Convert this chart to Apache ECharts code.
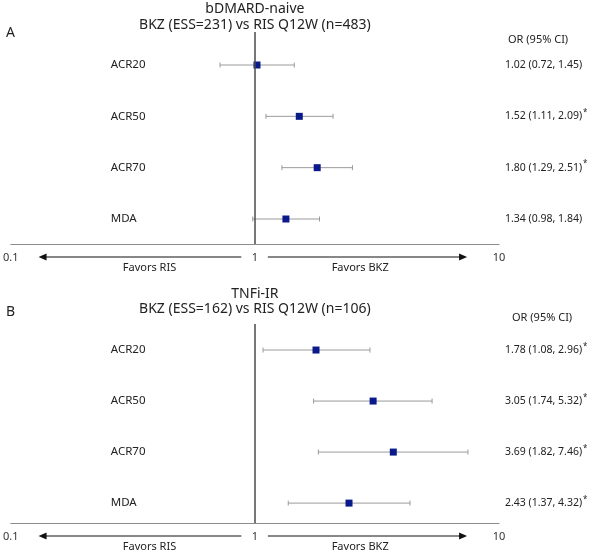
<!DOCTYPE html>
<html>
<head>
<meta charset="utf-8">
<script src="https://cdn.jsdelivr.net/npm/echarts@6/dist/echarts.min.js"></script>
<style>
html,body{margin:0;padding:0;background:#fff;}
#chart{width:597px;height:558px;}
</style>
</head>
<body>
<div id="chart"></div>
<script>
// ---- data ----
const categories = ['ACR20', 'ACR50', 'ACR70', 'MDA'];
const xTicks = [0.1, 1, 10];

const panelATitle = 'bDMARD-naive';
const panelASub = 'BKZ (ESS=231) vs RIS Q12W (n=483)';
const orA = [1.02, 1.52, 1.80, 1.34];
const loA = [0.72, 1.11, 1.29, 0.98];
const hiA = [1.45, 2.09, 2.51, 1.84];
const sigA = [false, true, true, false];

const panelBTitle = 'TNFi-IR';
const panelBSub = 'BKZ (ESS=162) vs RIS Q12W (n=106)';
const orB = [1.78, 3.05, 3.69, 2.43];
const loB = [1.08, 1.74, 1.82, 1.37];
const hiB = [2.96, 5.32, 7.46, 4.32];
const sigB = [true, true, true, true];

const FONT = '"Noto Sans", "Open Sans", sans-serif';
const MARK = '#0a1a8a';
const BAR = '#9a9a9a';

function fmt(v){ return v.toFixed(2); }
function orText(o, l, h, s){
  return '{v|' + fmt(o) + ' (' + fmt(l) + ', ' + fmt(h) + ')}' + (s ? '{s|*}' : '');
}

const chart = echarts.init(document.getElementById('chart'), null, {renderer:'canvas'});

function xAxisDef(gi){
  return {
    type:'log', logBase:10, min:0.1, max:10, gridIndex:gi,
    axisLine:{show:true, onZero:false, lineStyle:{color:'#8c8c8c', width:1}},
    axisTick:{show:false}, splitLine:{show:false},
    axisLabel:{fontFamily:FONT, fontSize:11, color:'#333', margin:8,
      formatter:function(v){ return xTicks.indexOf(+v.toPrecision(3))>=0 ? String(+v.toPrecision(3)) : ''; }}
  };
}
function yLeft(gi, mn, mx){
  return {
    type:'value', gridIndex:gi, inverse:true, min:mn, max:mx, position:'left',
    axisLine:{show:false}, axisTick:{show:false}, splitLine:{show:false},
    axisLabel:{show:true, inside:true, margin:100, customValues:[0,1,2,3],
      fontFamily:FONT, fontSize:11.5, color:'#222',
      formatter:function(v){ return categories[Math.round(v)] || ''; }}
  };
}
function yRight(gi, mn, mx, o, l, h, s){
  return {
    type:'value', gridIndex:gi, inverse:true, min:mn, max:mx, position:'right',
    axisLine:{show:false}, axisTick:{show:false}, splitLine:{show:false},
    axisLabel:{show:true, margin:6, customValues:[0,1,2,3],
      formatter:function(v){ const i=Math.round(v); return orText(o[i], l[i], h[i], s[i]); },
      rich:{
        v:{fontFamily:FONT, fontSize:10.5, color:'#222'},
        s:{fontFamily:FONT, fontSize:8, color:'#222', padding:[0,0,7,1]}
      }}
  };
}

function errSeries(xi, yi, o, l, h){
  return {
    type:'custom', xAxisIndex:xi, yAxisIndex:yi,
    data: o.map(function(_, i){ return [i, l[i], h[i]]; }),
    encode:{x:[1,2], y:0},
    renderItem:function(params, api){
      const a = api.coord([api.value(1), api.value(0)]);
      const b = api.coord([api.value(2), api.value(0)]);
      const st = {stroke:BAR, lineWidth:1};
      const c = 2.5;
      return {type:'group', children:[
        {type:'line', shape:{x1:a[0], y1:a[1], x2:b[0], y2:b[1]}, style:st},
        {type:'line', shape:{x1:a[0], y1:a[1]-c, x2:a[0], y2:a[1]+c}, style:st},
        {type:'line', shape:{x1:b[0], y1:b[1]-c, x2:b[0], y2:b[1]+c}, style:st}
      ]};
    },
    silent:true, z:2
  };
}
function ptSeries(xi, yi, o){
  return {
    type:'scatter', xAxisIndex:xi, yAxisIndex:yi,
    data: o.map(function(v, i){ return [v, i]; }),
    symbol:'rect', symbolSize:7, itemStyle:{color:MARK, opacity:1}, z:4, silent:true,
    markLine:{silent:true, symbol:'none', label:{show:false},
      lineStyle:{color:'#4a4a4a', width:1.5, type:'solid'},
      data:[{xAxis:1}]}
  };
}

const gridA = {left:10, width:489, top:32, height:212};
const gridB = {left:10, width:489, top:324, height:199};
const rowsA = {min:-0.643, max:3.487};
const rowsB = {min:-0.51, max:3.39};

chart.setOption({
  backgroundColor:'#fff',
  animation:false,
  grid:[gridA, gridB],
  xAxis:[xAxisDef(0), xAxisDef(1)],
  yAxis:[
    yLeft(0, rowsA.min, rowsA.max), yRight(0, rowsA.min, rowsA.max, orA, loA, hiA, sigA),
    yLeft(1, rowsB.min, rowsB.max), yRight(1, rowsB.min, rowsB.max, orB, loB, hiB, sigB)
  ],
  series:[
    errSeries(0, 0, orA, loA, hiA), ptSeries(0, 0, orA),
    errSeries(1, 2, orB, loB, hiB), ptSeries(1, 2, orB)
  ]
});

// annotations placed with the axis scales
function px(gi, x){ return chart.convertToPixel({xAxisIndex:gi}, x); }
function txt(x, y, s, size, align){
  return {type:'text', x:x, y:y, style:{text:s, fontFamily:FONT, fontSize:size, fill:'#222',
    align:align||'center', verticalAlign:'middle'}, silent:true};
}
function arrows(gi, yAxisLine){
  const y = yAxisLine + 13;
  const l0 = px(gi, 0.88), l1 = px(gi, 0.13), r0 = px(gi, 1.13), r1 = px(gi, 7.4);
  const st = {stroke:'#111', lineWidth:1.2};
  return [
    {type:'line', shape:{x1:l0, y1:y, x2:l1+6, y2:y}, style:st, silent:true},
    {type:'polygon', shape:{points:[[l1,y],[l1+8,y-3.5],[l1+8,y+3.5]]}, style:{fill:'#111'}, silent:true},
    {type:'line', shape:{x1:r0, y1:y, x2:r1-6, y2:y}, style:st, silent:true},
    {type:'polygon', shape:{points:[[r1,y],[r1-8,y-3.5],[r1-8,y+3.5]]}, style:{fill:'#111'}, silent:true},
    txt(px(gi, 0.37), y + 11, 'Favors RIS', 11),
    txt(px(gi, 2.7), y + 11, 'Favors BKZ', 11)
  ];
}
const axA = gridA.top + gridA.height, axB = gridB.top + gridB.height;
const center = px(0, 1);
const els = [
  txt(center, 9, panelATitle, 14),
  txt(center, 25, panelASub, 14),
  txt(6, 33, 'A', 14, 'left'),
  txt(508, 40, 'OR (95% CI)', 11, 'left'),
  txt(center, 294, panelBTitle, 14),
  txt(center, 309, panelBSub, 14),
  txt(6, 312, 'B', 14, 'left'),
  txt(512, 318, 'OR (95% CI)', 11, 'left')
].concat(arrows(0, axA), arrows(1, axB));
chart.setOption({graphic:{elements:els}});
</script>
</body>
</html>
